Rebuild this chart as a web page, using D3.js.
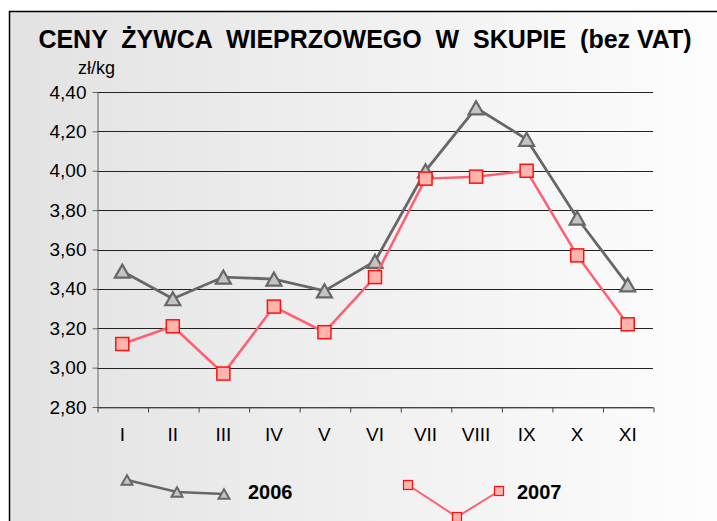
<!DOCTYPE html>
<html>
<head>
<meta charset="utf-8">
<script src="https://cdn.jsdelivr.net/npm/d3@7"></script>
<style>
  body { margin: 0; background: #fff; }
  svg { display: block; font-family: "Liberation Sans", Arial, sans-serif; }
</style>
</head>
<body>
<div id="chart"></div>
<script>
var months = ["I", "II", "III", "IV", "V", "VI", "VII", "VIII", "IX", "X", "XI"];
var ceny2006 = [3.49, 3.35, 3.46, 3.45, 3.39, 3.54, 4.00, 4.32, 4.16, 3.76, 3.42];
var ceny2007 = [3.12, 3.21, 2.97, 3.31, 3.18, 3.46, 3.96, 3.97, 4.00, 3.57, 3.22];
var yTicks = [2.80, 3.00, 3.20, 3.40, 3.60, 3.80, 4.00, 4.20, 4.40];
var legendYears = ["2006", "2007"];

var width = 717, height = 521;
var plotLeft = 97, plotRight = 653, plotTop = 92, plotBottom = 407;

var svg = d3.select("#chart").append("svg")
  .attr("width", width).attr("height", height);

// tło z gradientem
var grad = svg.append("defs").append("linearGradient")
  .attr("id", "bg").attr("x1", "0").attr("x2", "1").attr("y1", "0").attr("y2", "0");
grad.append("stop").attr("offset", "0").attr("stop-color", "#e2e2e2");
grad.append("stop").attr("offset", "1").attr("stop-color", "#fdfdfd");

svg.append("rect").attr("x", 9).attr("y", 11).attr("width", width - 9).attr("height", height - 11)
  .attr("fill", "url(#bg)");
svg.append("path").attr("d", "M9.5,521V11.5H717")
  .attr("fill", "none").attr("stroke", "#000").attr("stroke-width", 1.5);

// tytuł
svg.append("text")
  .attr("x", 365).attr("y", 48).attr("text-anchor", "middle")
  .style("font-size", "25px").style("font-weight", "bold").style("white-space", "pre")
  .text("CENY  ŻYWCA  WIEPRZOWEGO  W  SKUPIE  (bez VAT)");

svg.append("text").attr("x", 78).attr("y", 74)
  .attr("font-size", 18).text("zł/kg");

var x = d3.scaleBand().domain(months).range([plotLeft, plotRight]).padding(0);
var y = d3.scaleLinear().domain([2.8, 4.4]).range([plotBottom, plotTop]);

var fmt = function(d) { return d3.format(".2f")(d).replace(".", ","); };

// linie siatki
svg.append("g").selectAll("line").data(yTicks).enter().append("line")
  .attr("x1", plotLeft).attr("x2", plotRight)
  .attr("y1", function(d) { return Math.round(y(d)) + 0.5; })
  .attr("y2", function(d) { return Math.round(y(d)) + 0.5; })
  .attr("stroke", "#222").attr("stroke-width", 1);

// oś Y
var yAxis = svg.append("g")
  .attr("transform", "translate(" + (plotLeft + 0.5) + ",0)")
  .call(d3.axisLeft(y).tickValues(yTicks).tickFormat(fmt).tickSize(5).tickPadding(6).tickSizeOuter(0));
yAxis.attr("font-family", null).attr("font-size", null);
yAxis.select(".domain").attr("stroke", "#666");
yAxis.selectAll(".tick line").attr("stroke", "#666");
yAxis.selectAll("text").style("font-size", "19px").attr("fill", "#000");

// oś X
var xTicksScale = d3.scalePoint().domain(d3.range(months.length + 1)).range([plotLeft, plotRight]);
var xAxis = svg.append("g")
  .attr("transform", "translate(0.5," + (plotBottom + 0.5) + ")")
  .call(d3.axisBottom(xTicksScale).tickSize(5).tickFormat("").tickSizeOuter(0));
xAxis.select(".domain").attr("stroke", "#666");
xAxis.selectAll(".tick line").attr("stroke", "#444");

svg.append("g").selectAll("text").data(months).enter().append("text")
  .attr("x", function(d) { return x(d) + x.bandwidth() / 2; })
  .attr("y", 441)
  .attr("text-anchor", "middle")
  .style("font-size", "19px")
  .text(function(d) { return d; });

function triangle(cx, cy, s) {
  var h = s * 0.87;
  return "M" + cx + "," + (cy - h / 2) + "L" + (cx + s / 2) + "," + (cy + h / 2) + "L" + (cx - s / 2) + "," + (cy + h / 2) + "Z";
}

var line = d3.line()
  .x(function(d, i) { return x(months[i]) + x.bandwidth() / 2; })
  .y(function(d) { return y(d); });

// seria 2006
svg.append("path").datum(ceny2006).attr("d", line)
  .attr("fill", "none").attr("stroke", "#676767").attr("stroke-width", 2.8);
svg.append("g").selectAll("path").data(ceny2006).enter().append("path")
  .attr("d", function(d, i) { return triangle(x(months[i]) + x.bandwidth() / 2, y(d), 15); })
  .attr("fill", "#c4c4c4").attr("stroke", "#676767").attr("stroke-width", 2.2);

// seria 2007
svg.append("path").datum(ceny2007).attr("d", line)
  .attr("fill", "none").attr("stroke", "#ff6070").attr("stroke-width", 2.5);
svg.append("g").selectAll("rect").data(ceny2007).enter().append("rect")
  .attr("x", function(d, i) { return x(months[i]) + x.bandwidth() / 2 - 6.5; })
  .attr("y", function(d) { return y(d) - 6.5; })
  .attr("width", 13).attr("height", 13)
  .attr("fill", "#ffb4ac").attr("stroke", "#ff1010").attr("stroke-width", 1.5);

// legenda
var leg1 = [[127, 480], [177, 492], [224, 494]];
var leg2 = [[408, 485], [457, 517], [499, 491]];
svg.append("path").attr("d", d3.line()(leg1))
  .attr("fill", "none").attr("stroke", "#676767").attr("stroke-width", 2.5);
svg.append("g").selectAll("path").data(leg1).enter().append("path")
  .attr("d", function(d) { return triangle(d[0], d[1], 11); })
  .attr("fill", "#c4c4c4").attr("stroke", "#676767").attr("stroke-width", 2);
svg.append("path").attr("d", d3.line()(leg2))
  .attr("fill", "none").attr("stroke", "#ff6070").attr("stroke-width", 2);
svg.append("g").selectAll("rect").data(leg2).enter().append("rect")
  .attr("x", function(d) { return d[0] - 4.5; }).attr("y", function(d) { return d[1] - 4.5; })
  .attr("width", 9).attr("height", 9)
  .attr("fill", "#ffb4ac").attr("stroke", "#ff1010").attr("stroke-width", 1.2);

svg.append("g").selectAll("text").data(legendYears).enter().append("text")
  .attr("x", function(d, i) { return i === 0 ? 248 : 517; })
  .attr("y", 499)
  .style("font-size", "20px").style("font-weight", "bold")
  .text(function(d) { return d; });
</script>
</body>
</html>
